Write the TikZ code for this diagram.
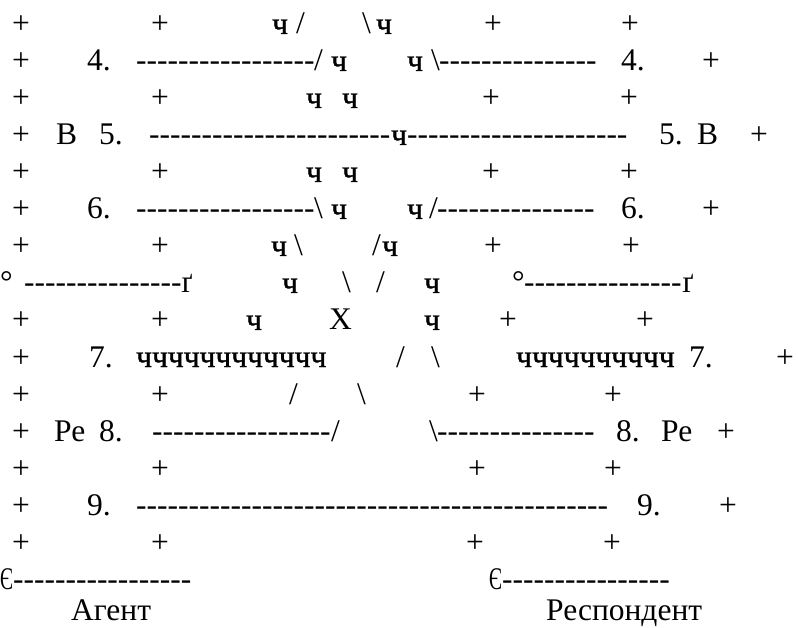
\documentclass[tikz,border=0pt]{standalone}
\usepackage{graphicx}
\usepackage{fontspec}
\setmainfont{Liberation Serif}[Ligatures=TeXOff]
\newfontfamily\chf{Liberation Serif}[Ligatures=TeXOff,FakeBold=1.2]
\newcount\hycnt
\newcommand\hy[1]{\hycnt=#1\relax\loop\ifnum\hycnt>0 -\advance\hycnt-1\repeat}
\newcommand\bs{\textbackslash}
\newcommand\ch[1]{{\chf #1}}
\newcommand\ye{\scalebox{0.62}[1]{Є}}
\begin{document}
\begin{tikzpicture}[x=1pt,y=-1pt,
  tx/.style={anchor=base west, inner sep=0pt, font=\fontsize{31.5}{37}\selectfont},
  pl/.style={anchor=base, inner sep=0pt, font=\fontsize{31.5}{37}\selectfont}]
\useasboundingbox[fill=white] (0,0) rectangle (798,628);
% row 1
\node[pl] (r1a) at (21,34) {+};
\node[pl] (r1b) at (160,34) {+};
\node[tx] (r1c) at (272,34) {\ch{ч}};
\node[tx] (r1d) at (296,34) {/};
\node[tx] (r1e) at (362,34) {\bs};
\node[tx] (r1f) at (376,34) {\ch{ч}};
\node[pl] (r1g) at (493,34) {+};
\node[pl] (r1h) at (630,34) {+};
% row 2
\node[pl] (r2a) at (21,71) {+};
\node[tx] (r2b) at (87,71) {4.};
\node[tx] (r2c) at (136,71) {\hy{17}};
\node[tx] (r2d) at (314,71) {/};
\node[tx] (r2e) at (331,71) {\ch{ч}};
\node[tx] (r2f) at (407,71) {\ch{ч}};
\node[tx] (r2g) at (431,71) {\bs};
\node[tx] (r2h) at (439,71) {\hy{15}};
\node[tx] (r2i) at (621,71) {4.};
\node[pl] (r2j) at (711,71) {+};
% row 3
\node[pl] (r3a) at (21,108) {+};
\node[pl] (r3b) at (160,108) {+};
\node[tx] (r3c) at (306,108) {\ch{ч}};
\node[tx] (r3d) at (342,108) {\ch{ч}};
\node[pl] (r3e) at (491,108) {+};
\node[pl] (r3f) at (629,108) {+};
% row 4
\node[pl] (r4a) at (21,145) {+};
\node[tx] (r4b) at (56,145) {В};
\node[tx] (r4c) at (99,145) {5.};
\node[tx] (r4d) at (149,145) {\hy{23}};
\node[tx] (r4e) at (391,145) {\ch{ч}};
\node[tx] (r4f) at (407,145) {\hy{21}};
\node[tx] (r4g) at (659,145) {5.};
\node[tx] (r4h) at (697,145) {В};
\node[pl] (r4i) at (759,145) {+};
% row 5
\node[pl] (r5a) at (21,182) {+};
\node[pl] (r5b) at (160,182) {+};
\node[tx] (r5c) at (306,182) {\ch{ч}};
\node[tx] (r5d) at (342,182) {\ch{ч}};
\node[pl] (r5e) at (491,182) {+};
\node[pl] (r5f) at (629,182) {+};
% row 6
\node[pl] (r6a) at (21,219) {+};
\node[tx] (r6b) at (87,219) {6.};
\node[tx] (r6c) at (136,219) {\hy{17}};
\node[tx] (r6d) at (314,219) {\bs};
\node[tx] (r6e) at (331,219) {\ch{ч}};
\node[tx] (r6f) at (407,219) {\ch{ч}};
\node[tx] (r6g) at (429,219) {/};
\node[tx] (r6h) at (437,219) {\hy{15}};
\node[tx] (r6i) at (621,219) {6.};
\node[pl] (r6j) at (711,219) {+};
% row 7
\node[pl] (r7a) at (21,256) {+};
\node[pl] (r7b) at (160,256) {+};
\node[tx] (r7c) at (271,256) {\ch{ч}};
\node[tx] (r7d) at (294,256) {\bs};
\node[tx] (r7e) at (372,256) {/};
\node[tx] (r7f) at (382,256) {\ch{ч}};
\node[pl] (r7g) at (493,256) {+};
\node[pl] (r7h) at (631,256) {+};
% row 8
\node[tx] (r8a) at (0,293) {°};
\node[tx] (r8b) at (24,293) {\hy{15}};
\node[tx] (r8c) at (181,293) {ґ};
\node[tx] (r8d) at (282,293) {\ch{ч}};
\node[tx] (r8e) at (342,293) {\bs};
\node[tx] (r8f) at (376,293) {/};
\node[tx] (r8g) at (424,293) {\ch{ч}};
\node[tx] (r8h) at (512,293) {°};
\node[tx] (r8i) at (524,293) {\hy{15}};
\node[tx] (r8j) at (682,293) {ґ};
% row 9
\node[pl] (r9a) at (21,330) {+};
\node[pl] (r9b) at (160,330) {+};
\node[tx] (r9c) at (246,330) {\ch{ч}};
\node[tx] (r9d) at (329,330) {X};
\node[tx] (r9e) at (424,330) {\ch{ч}};
\node[pl] (r9f) at (508,330) {+};
\node[pl] (r9g) at (645,330) {+};
% row 10
\node[pl] (r10a) at (21,367) {+};
\node[tx] (r10b) at (89,367) {7.};
\node[tx] (r10c) at (136,367) {\ch{чччччччччччч}};
\node[tx] (r10d) at (396,367) {/};
\node[tx] (r10e) at (431,367) {\bs};
\node[tx] (r10f) at (516,367) {\ch{чччччччччч}};
\node[tx] (r10g) at (689,367) {7.};
\node[pl] (r10h) at (785,367) {+};
% row 11
\node[pl] (r11a) at (21,404) {+};
\node[pl] (r11b) at (160,404) {+};
\node[tx] (r11c) at (289,404) {/};
\node[tx] (r11d) at (357,404) {\bs};
\node[pl] (r11e) at (477,404) {+};
\node[pl] (r11f) at (613,404) {+};
% row 12
\node[pl] (r12a) at (21,441) {+};
\node[tx] (r12b) at (54,441) {Ре};
\node[tx] (r12c) at (99,441) {8.};
\node[tx] (r12d) at (152,441) {\hy{17}};
\node[tx] (r12e) at (331,441) {/};
\node[tx] (r12f) at (429,441) {\bs};
\node[tx] (r12g) at (437,441) {\hy{15}};
\node[tx] (r12h) at (616,441) {8.};
\node[tx] (r12i) at (661,441) {Ре};
\node[pl] (r12j) at (726,441) {+};
% row 13
\node[pl] (r13a) at (21,478) {+};
\node[pl] (r13b) at (160,478) {+};
\node[pl] (r13c) at (477,478) {+};
\node[pl] (r13d) at (613,478) {+};
% row 14
\node[pl] (r14a) at (21,515) {+};
\node[tx] (r14b) at (87,515) {9.};
\node[tx] (r14c) at (136,515) {\hy{45}};
\node[tx] (r14d) at (637,515) {9.};
\node[pl] (r14e) at (728,515) {+};
% row 15
\node[pl] (r15a) at (21,552) {+};
\node[pl] (r15b) at (160,552) {+};
\node[pl] (r15c) at (475,552) {+};
\node[pl] (r15d) at (612,552) {+};
% row 16
\node[tx] (r16a) at (0,589) {\ye\hy{17}};
\node[tx] (r16c) at (489,589) {\ye\hy{16}};
% row 17
\node[tx] (r17a) at (71,620) {Агент};
\node[tx] (r17b) at (546,620) {Респондент};
\end{tikzpicture}
\end{document}
